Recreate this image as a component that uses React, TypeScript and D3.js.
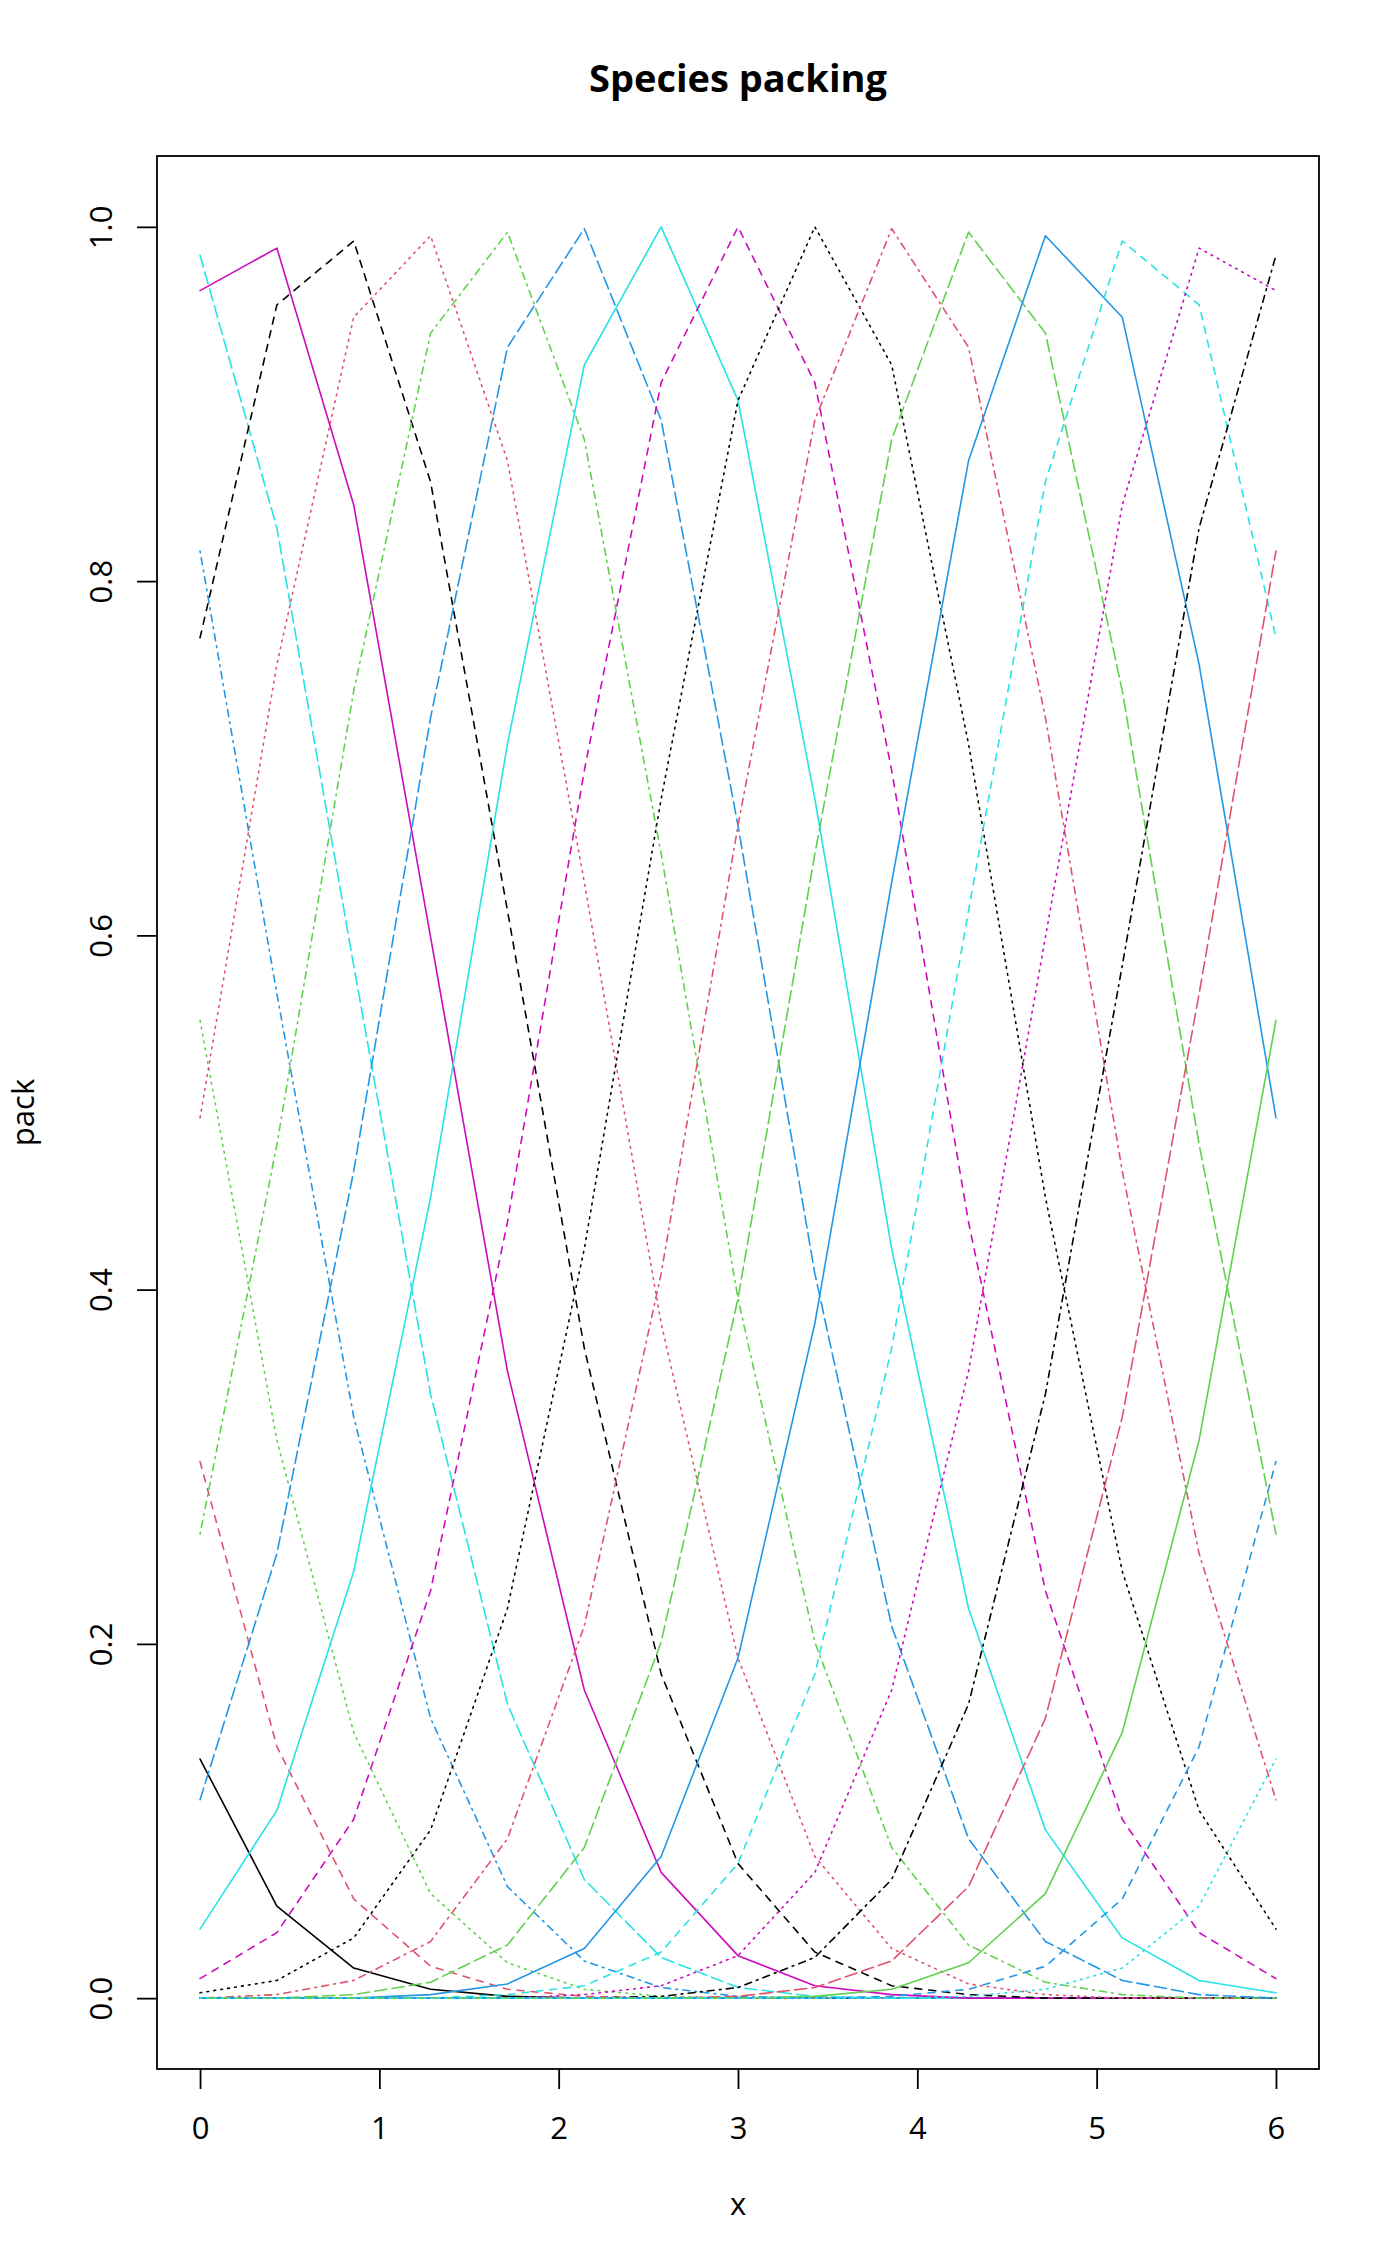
import * as d3 from 'd3';
import { useEffect, useRef } from 'react';

// gradient positions (15 sample points between 0 and 6)
const xValues = [0, 0.4286, 0.8571, 1.2857, 1.7143, 2.1429, 2.5714, 3, 3.4286, 3.8571, 4.2857, 4.7143, 5.1429, 5.5714, 6];

// response of each species along the gradient
const sp01 = [0.135, 0.052, 0.017, 0.005, 0.001, 0, 0, 0, 0, 0, 0, 0, 0, 0, 0];
const sp02 = [0.303, 0.142, 0.056, 0.018, 0.005, 0.001, 0, 0, 0, 0, 0, 0, 0, 0, 0];
const sp03 = [0.552, 0.315, 0.15, 0.059, 0.02, 0.005, 0.001, 0, 0, 0, 0, 0, 0, 0, 0];
const sp04 = [0.817, 0.567, 0.328, 0.158, 0.063, 0.021, 0.006, 0.001, 0, 0, 0, 0, 0, 0, 0];
const sp05 = [0.984, 0.83, 0.583, 0.341, 0.166, 0.067, 0.023, 0.006, 0.001, 0, 0, 0, 0, 0, 0];
const sp06 = [0.964, 0.988, 0.843, 0.599, 0.354, 0.174, 0.071, 0.024, 0.007, 0.002, 0, 0, 0, 0, 0];
const sp07 = [0.768, 0.956, 0.992, 0.856, 0.614, 0.367, 0.183, 0.076, 0.026, 0.007, 0.002, 0, 0, 0, 0];
const sp08 = [0.497, 0.753, 0.949, 0.995, 0.868, 0.63, 0.381, 0.192, 0.08, 0.028, 0.008, 0.002, 0, 0, 0];
const sp09 = [0.262, 0.482, 0.738, 0.94, 0.997, 0.88, 0.646, 0.395, 0.201, 0.085, 0.03, 0.009, 0.002, 0, 0];
const sp10 = [0.112, 0.251, 0.467, 0.723, 0.932, 0.999, 0.891, 0.662, 0.409, 0.21, 0.09, 0.032, 0.01, 0.002, 0];
const sp11 = [0.039, 0.106, 0.241, 0.452, 0.708, 0.922, 1.0, 0.902, 0.677, 0.423, 0.22, 0.095, 0.034, 0.01, 0.003];
const sp12 = [0.011, 0.037, 0.101, 0.23, 0.438, 0.693, 0.912, 1.0, 0.912, 0.693, 0.438, 0.23, 0.101, 0.037, 0.011];
const sp13 = [0.003, 0.01, 0.034, 0.095, 0.22, 0.423, 0.677, 0.902, 1.0, 0.922, 0.708, 0.452, 0.241, 0.106, 0.039];
const sp14 = [0, 0.002, 0.01, 0.032, 0.09, 0.21, 0.409, 0.662, 0.891, 0.999, 0.932, 0.723, 0.467, 0.251, 0.112];
const sp15 = [0, 0, 0.002, 0.009, 0.03, 0.085, 0.201, 0.395, 0.646, 0.88, 0.997, 0.94, 0.738, 0.482, 0.262];
const sp16 = [0, 0, 0, 0.002, 0.008, 0.028, 0.08, 0.192, 0.381, 0.63, 0.868, 0.995, 0.949, 0.753, 0.497];
const sp17 = [0, 0, 0, 0, 0.002, 0.007, 0.026, 0.076, 0.183, 0.367, 0.614, 0.856, 0.992, 0.956, 0.768];
const sp18 = [0, 0, 0, 0, 0, 0.002, 0.007, 0.024, 0.071, 0.174, 0.354, 0.599, 0.843, 0.988, 0.964];
const sp19 = [0, 0, 0, 0, 0, 0, 0.001, 0.006, 0.023, 0.067, 0.166, 0.341, 0.583, 0.83, 0.984];
const sp20 = [0, 0, 0, 0, 0, 0, 0, 0.001, 0.006, 0.021, 0.063, 0.158, 0.328, 0.567, 0.817];
const sp21 = [0, 0, 0, 0, 0, 0, 0, 0, 0.001, 0.005, 0.02, 0.059, 0.15, 0.315, 0.552];
const sp22 = [0, 0, 0, 0, 0, 0, 0, 0, 0, 0.001, 0.005, 0.018, 0.056, 0.142, 0.303];
const sp23 = [0, 0, 0, 0, 0, 0, 0, 0, 0, 0, 0.001, 0.005, 0.017, 0.052, 0.135];

const species = [sp01, sp02, sp03, sp04, sp05, sp06, sp07, sp08, sp09, sp10, sp11, sp12,
    sp13, sp14, sp15, sp16, sp17, sp18, sp19, sp20, sp21, sp22, sp23];

const xTicks = [0, 1, 2, 3, 4, 5, 6];
const yTicks = [0, 0.2, 0.4, 0.6, 0.8, 1.0];

// R default palette & line types (solid, dashed, dotted, dotdash, longdash)
const palette = ['#000000', '#DF536B', '#61D04F', '#2297E6', '#28E2E5', '#CD0BBC'];
const lineTypes = [null, '7,7', '1.75,5.25', '1.75,5.25,7,5.25', '12.25,5.25'];

const W = 1400;
const H = 2266;
const FONT = '"Open Sans", "Noto Sans", sans-serif';

const App = () => {
    const svgRef = useRef<SVGSVGElement>(null);

    useEffect(() => {
        document.body.style.margin = '0';
        const svg = d3.select(svgRef.current);
        svg.selectAll('*').remove();

        // plot region
        const plot = { left: 157, right: 1319, top: 156, bottom: 2069 };

        const xScale = d3.scaleLinear().domain([-0.24, 6.24]).range([plot.left, plot.right]);
        const yScale = d3.scaleLinear().domain([-0.04, 1.04]).range([plot.bottom, plot.top]);

        svg.append('rect').attr('width', W).attr('height', H).attr('fill', '#ffffff');

        // Lines
        const line = d3
            .line<number>()
            .x((_, i) => xScale(xValues[i]))
            .y((d) => yScale(d));

        species.forEach((values, i) => {
            const dash = lineTypes[i % lineTypes.length];
            const path = svg
                .append('path')
                .datum(values)
                .attr('d', line)
                .attr('fill', 'none')
                .attr('stroke', palette[i % palette.length])
                .attr('stroke-width', 1.6)
                .attr('stroke-linejoin', 'round')
                .attr('stroke-linecap', 'round');
            if (dash) path.attr('stroke-dasharray', dash);
        });

        // Box
        svg.append('rect')
            .attr('x', plot.left)
            .attr('y', plot.top)
            .attr('width', plot.right - plot.left)
            .attr('height', plot.bottom - plot.top)
            .attr('fill', 'none')
            .attr('stroke', '#000')
            .attr('stroke-width', 1.8);

        // Axes
        const xAxis = d3.axisBottom(xScale).tickValues(xTicks).tickSize(20).tickPadding(28).tickFormat(d3.format('d'));
        const gx = svg.append('g').attr('transform', `translate(0,${plot.bottom})`).call(xAxis);
        gx.select('.domain').remove();
        gx.selectAll('line').attr('stroke-width', 1.8);
        gx.selectAll('text').attr('font-size', 31).attr('font-family', FONT).attr('fill', '#000');

        const yAxis = d3.axisLeft(yScale).tickValues(yTicks).tickSize(20).tickFormat(d3.format('.1f'));
        const gy = svg.append('g').attr('transform', `translate(${plot.left},0)`).call(yAxis);
        gy.select('.domain').remove();
        gy.selectAll('line').attr('stroke-width', 1.8);
        gy.selectAll('text')
            .attr('x', null)
            .attr('dy', null)
            .attr('text-anchor', 'middle')
            .attr('transform', 'translate(-45,0) rotate(-90)')
            .attr('font-size', 31)
            .attr('font-family', FONT)
            .attr('fill', '#000');

        // Titles
        svg.append('text')
            .attr('x', (plot.left + plot.right) / 2)
            .attr('y', 92)
            .attr('text-anchor', 'middle')
            .attr('font-family', FONT)
            .attr('font-weight', 'bold')
            .attr('font-size', 38)
            .text('Species packing');

        svg.append('text')
            .attr('x', (plot.left + plot.right) / 2)
            .attr('y', 2215)
            .attr('text-anchor', 'middle')
            .attr('font-family', FONT)
            .attr('font-size', 31)
            .text('x');

        svg.append('text')
            .attr('transform', `translate(34,${(plot.top + plot.bottom) / 2}) rotate(-90)`)
            .attr('text-anchor', 'middle')
            .attr('font-family', FONT)
            .attr('font-size', 31)
            .text('pack');
    }, []);

    return <svg ref={svgRef} width={W} height={H} style={{ display: 'block' }}></svg>;
};

export default App;
